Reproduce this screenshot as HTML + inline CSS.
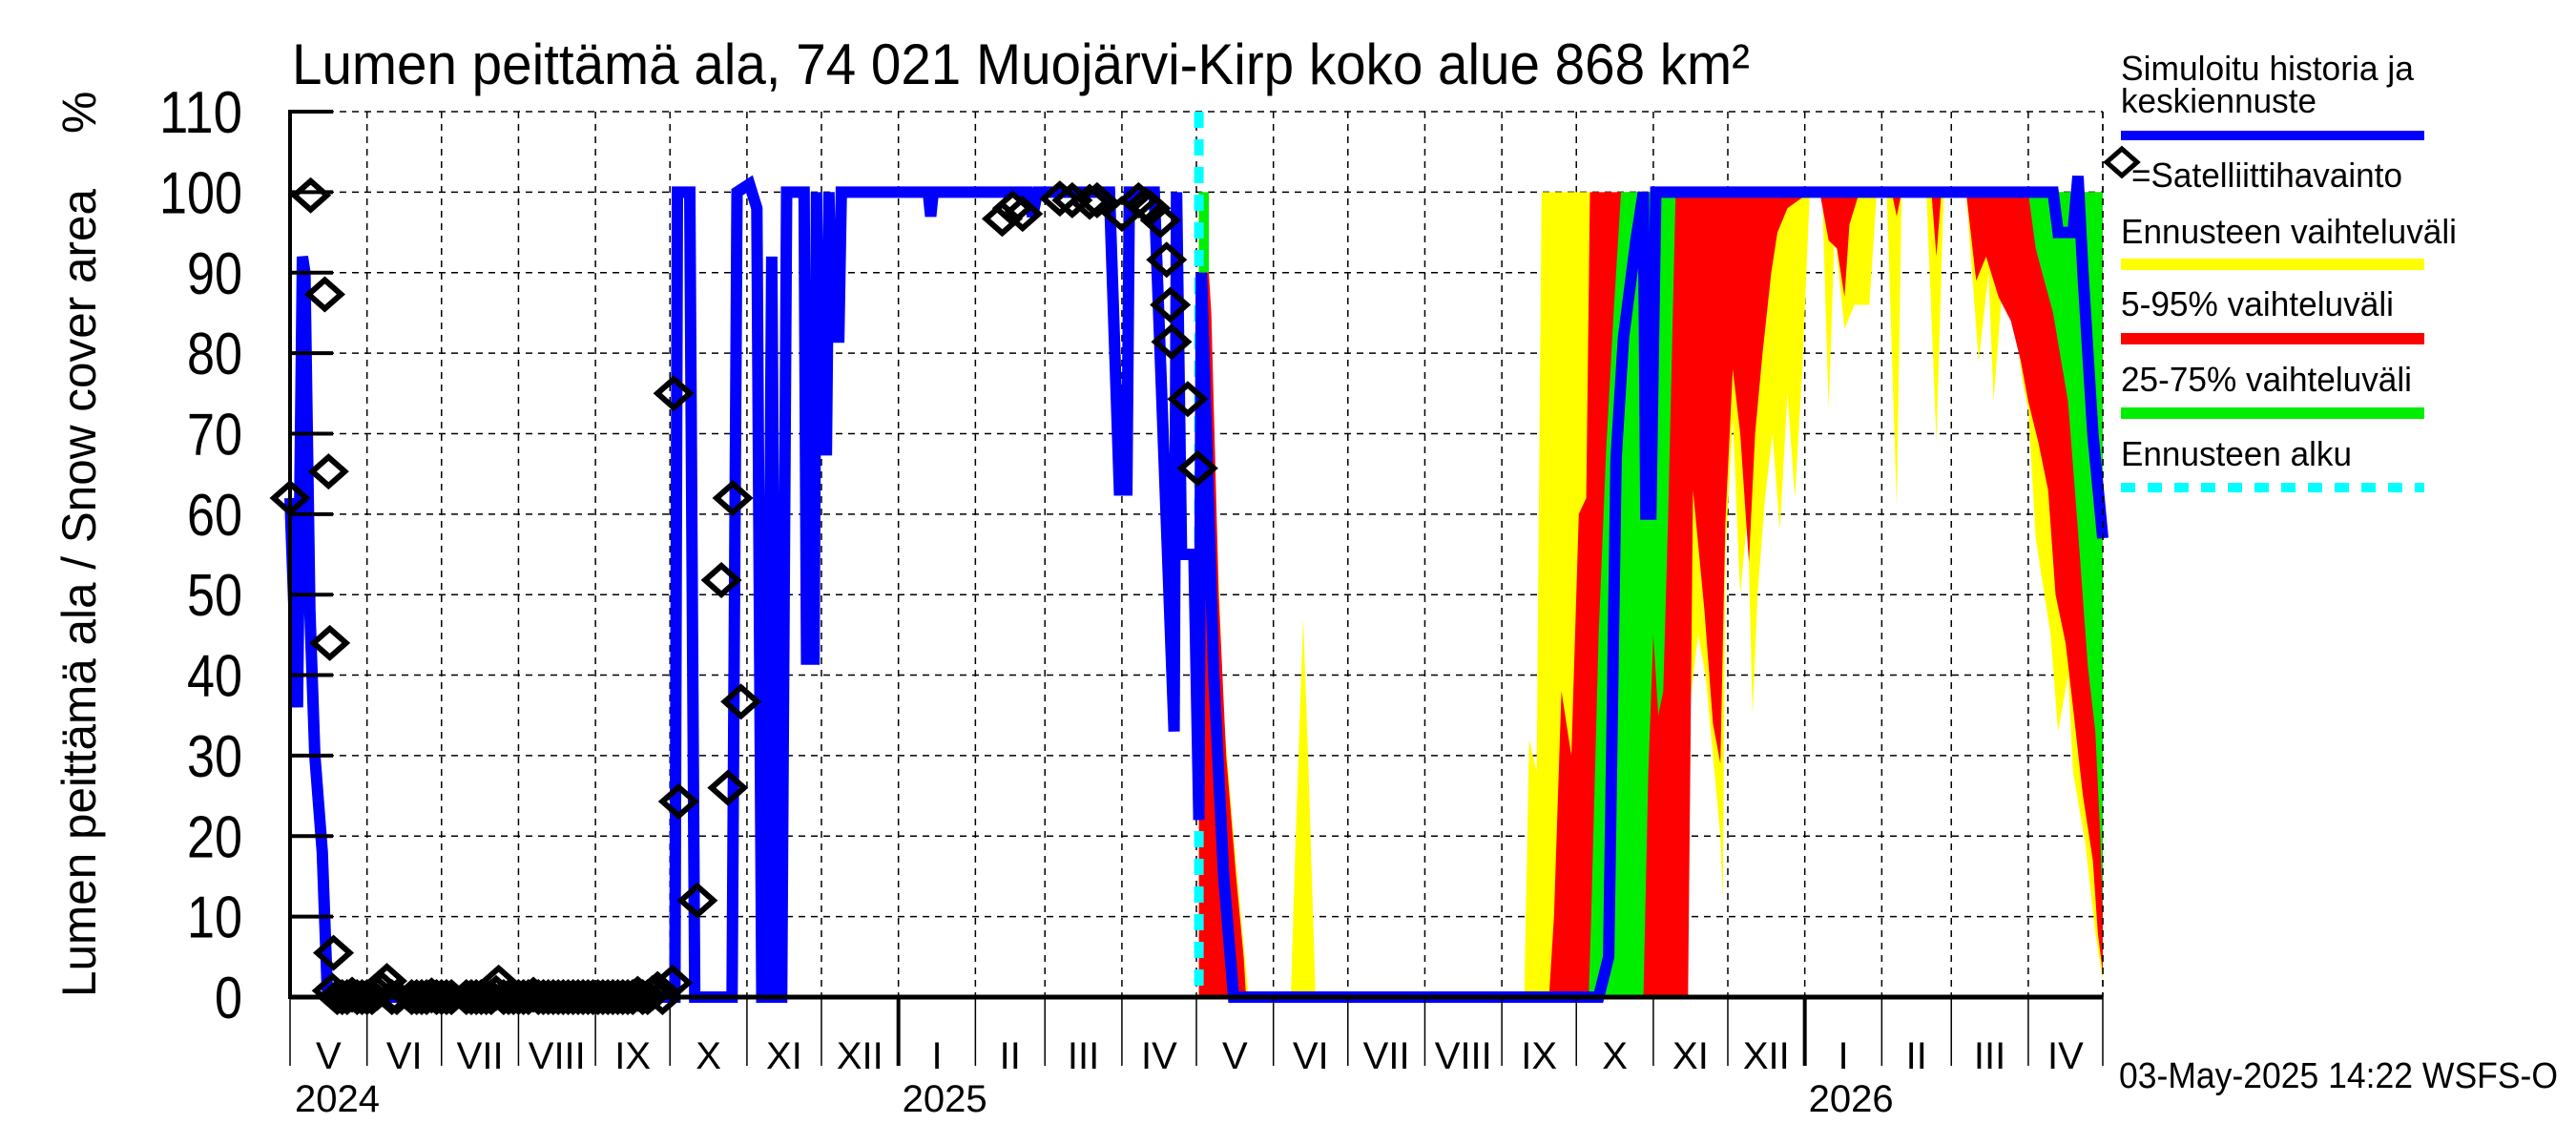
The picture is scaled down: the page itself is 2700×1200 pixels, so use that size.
<!DOCTYPE html>
<html><head><meta charset="utf-8"><style>
html,body{margin:0;padding:0;background:#fff;}
svg{display:block;}
text{font-family:"Liberation Sans",sans-serif;fill:#000;}
</style></head><body>
<svg id="chart" width="2700" height="1200" viewBox="0 0 2700 1200" xmlns="http://www.w3.org/2000/svg">
<rect x="0" y="0" width="2700" height="1200" fill="#fff"/>
<text x="306" y="88" font-size="60" textLength="1528" lengthAdjust="spacingAndGlyphs">Lumen peittämä ala, 74 021 Muojärvi-Kirp koko alue 868 km²</text>
<text transform="translate(100,1045) rotate(-90)" font-size="50" textLength="847" lengthAdjust="spacingAndGlyphs">Lumen peittämä ala / Snow cover area</text>
<text transform="translate(100,140) rotate(-90)" font-size="50">%</text>
<g id="grid"></g>
<g id="bands"></g>
<g id="series"></g>
<g id="axes"></g>
<g id="legend">
<text x="2223" y="84" font-size="36" textLength="307" lengthAdjust="spacingAndGlyphs">Simuloitu historia ja</text>
<text x="2223" y="118" font-size="36" textLength="205" lengthAdjust="spacingAndGlyphs">keskiennuste</text>
<rect x="2223" y="137" width="318" height="10" fill="#0000ff"/>
<path d="M2208,170 L2224,156 L2240,170 L2224,184 Z" fill="none" stroke="#000" stroke-width="5"/>
<text x="2234" y="196" font-size="36" textLength="284" lengthAdjust="spacingAndGlyphs">=Satelliittihavainto</text>
<text x="2223" y="255" font-size="36" textLength="352" lengthAdjust="spacingAndGlyphs">Ennusteen vaihteluväli</text>
<rect x="2223" y="271" width="318" height="12" fill="#ffff00"/>
<text x="2223" y="331" font-size="36" textLength="286" lengthAdjust="spacingAndGlyphs">5-95% vaihteluväli</text>
<rect x="2223" y="349" width="318" height="12" fill="#ff0000"/>
<text x="2223" y="410" font-size="36" textLength="305" lengthAdjust="spacingAndGlyphs">25-75% vaihteluväli</text>
<rect x="2223" y="427" width="318" height="12" fill="#00ee00"/>
<text x="2223" y="488" font-size="36" textLength="242" lengthAdjust="spacingAndGlyphs">Ennusteen alku</text>
<line x1="2223" y1="511" x2="2541" y2="511" stroke="#00ffff" stroke-width="10" stroke-dasharray="15,13"/>
</g>
<text x="2221" y="1140" font-size="38" textLength="460" lengthAdjust="spacingAndGlyphs">03-May-2025 14:22 WSFS-O</text>
</svg>
<script>
// Data: days since 2024-05-01, values in %
const blueHist = [[0,62],[3,36],[5,92],[6,90],[8,48],[10,30],[13,18],[15,1],[16,0],[155,0],[156,100],[161,100],[163,0],[178,0],[180,100],[185,101],[188,98],[190,0],[192,0],[194,92],[196,0],[198,0],[200,100],[207,100],[208,42],[211,42],[212,100],[213,68],[216,68],[217,100],[218,82],[221,82],[222,100],[257,100],[258,97],[259,100],[297,100],[299,97],[301,100],[330,100],[334,63],[337,63],[338,100],[348,100],[356,33],[357,100],[359,55],[364,55],[366,22]];
const blueFcst = [[366,22],[367,90],[372,40],[376,15],[380,0],[527,0],[531,5],[534,67],[537,82],[542,94],[545,100],[546,60],[548,60],[550,100],[710,100],[712,95],[718,95],[720,102],[722,90],[726,70],[730,57]];
const yellowUpper = [[366,100],[368,100],[370,90],[373,60],[376,35],[380,20],[383,10],[386,0],[403,0],[405,20],[408,47],[410,30],[413,0],[497,0],[499,32],[502,28],[504,100],[730,100]];
const yellowLower = [[366,0],[562,0],[564,37],[567,45],[570,40],[573,30],[576,20],[577,12],[578,55],[581,72],[584,50],[587,60],[589,35],[591,50],[594,62],[597,70],[600,58],[603,75],[606,62],[609,78],[612,100],[617,100],[619.6,73],[622,95],[626,83],[630,86],[636,86],[639,100],[643,100],[647,61],[649,100],[659,100],[663,69],[666,100],[675,100],[680,79],[684,90],[686,74],[690,90],[694,85],[698,76],[700,73],[703,57],[709,45],[712,33],[716,40],[718,28],[723,19],[727,8],[730,2]];
const redUpper = [[366,100],[368,100],[371,85],[374,50],[377,30],[381,15],[384,5],[385,0],[507,0],[509,10],[512,38],[516,30],[519,60],[522,62],[523.5,100],[730,100]];
const redLower = [[366,0],[563,0],[565,63],[569.6,48],[573,34],[576,29],[578,59],[581,78],[584,70],[587.5,54],[590,70],[593,80],[596.5,90],[599,95],[603,98],[612,100],[616,100],[619.6,94],[623,93],[626,87],[628,96],[632,100],[645,100],[647,97],[649,100],[661,100],[663,92],[665,100],[675,100],[679,89],[683,92],[688,87],[693,84],[697,79],[700,74],[704,69],[708,63],[711,50],[715,44],[718,36],[722,25],[726,17],[728,8],[730,3]];
// 25-75% band in three separate episodes
const greenUpperA = [[366,100],[370,100]];
const greenLowerA = [[366,90],[370,90]];
const greenUpperB = [[523,0],[524,10],[527,45],[530,68],[533,85],[536,100],[558,100]];
const greenLowerB = [[523,0],[545,0],[547,28],[549,45],[551,35],[553,38],[555,60],[558,100]];
const greenUpperC = [[700,100],[730,100]];
const greenLowerC = [[700,100],[703,93],[710,85],[716,74],[720,58],[724,41],[727,33],[729,20],[730,10]];
const obsDays = [0,8.3,14,15.5,16,17.5,17,19,21,23,25,27,29,31,33,35,37,39,41,43,49,51,53,55,57,59,61,63,65,71,73,75,77,79,81,83,84,86,88,90,92,94,96,98,100,102,104,106,108,110,112,114,116,118,120,122,124,126,128,130,132,134,136,138,140,142,144,146,148,150,154,154.5,156.5,164,173.7,176.3,178.3,181.6,286.8,291,295,310,315,322,325,335,341.7,344.5,346.5,350.5,353,354.5,355,361.5,365.5];
const obsVals = [62,99.6,87.3,65.3,44,5.5,0.8,0,0,0,0.3,0,0,0,0,0.5,1,2,0,0,0,0,0,0,0.2,0,0,0,0,0,0,0,0,0,0,0.5,1.8,0,0,0,0,0,0,0.3,0,0,0,0,0,0,0,0,0,0,0,0,0,0,0,0,0,0,0,0,0.4,0,0,0.5,1,0,1.8,75,24.3,12,51.8,26,62,36.7,96.7,98,97.3,99.2,99,98.8,99,97.3,99,98.4,98,96.5,91.6,86,81.4,74.3,65.7];
const yTicks = [0,10,20,30,40,50,60,70,80,90,100,110];
const monthLabels = ["I","II","III","IV","V","VI","VII","VIII","IX","X","XI","XII"];
const yearLabels = ["2024","2025","2026"];
const forecastStartDay = 366;

const NS = "http://www.w3.org/2000/svg";
const X0 = 304, X1 = 2204, Y0 = 1045, PXD = (X1 - X0) / 730, PXV = 8.436;
function xs(d){ return X0 + d * PXD; }
function ys(v){ return Y0 - v * PXV; }
function mk(tag, attrs, parent){ const e = document.createElementNS(NS, tag); for (const k in attrs) e.setAttribute(k, attrs[k]); parent.appendChild(e); return e; }
const start = Date.UTC(2024,4,1);
function dayOf(y,m){ return Math.round((Date.UTC(y,m,1) - start)/86400000); }

const grid = document.getElementById('grid');
const axes = document.getElementById('axes');
yTicks.forEach(v => {
  if (v > 0) {
    const l = mk('line', {x1:X0, y1:ys(v), x2:X1, y2:ys(v), stroke:'#000', 'stroke-width':1.5, 'stroke-dasharray':'7,6'}, grid);
    
    
  }
  const t = mk('line', {x1:X0, y1:ys(v), x2:X0+45, y2:ys(v), stroke:'#000', 'stroke-width':4}, axes);
  
  
  const s = String(v);
  const tx = mk('text', {x:254, y:ys(v)+22, 'font-size':62, 'text-anchor':'end', textLength: s.length*29, lengthAdjust:'spacingAndGlyphs'}, axes);
  tx.textContent = s;
  
  
});
let bounds = [];
for (let i = 0; i <= 24; i++) {
  const y = 2024 + Math.floor((4 + i) / 12), m = (4 + i) % 12;
  bounds.push({d: dayOf(y, m), y: y, m: m});
}
bounds.forEach((b, i) => {
  const x = xs(b.d);
  if (i > 0) {
    const g = mk('line', {x1:x, y1:ys(110), x2:x, y2:Y0, stroke:'#000', 'stroke-width':1.5, 'stroke-dasharray':'7,6'}, grid);
    
    
  }
  const isYear = b.m === 0;
  const t = mk('line', {x1:x, y1:Y0, x2:x, y2:1117, stroke:'#000', 'stroke-width': isYear ? 4 : 1.5}, axes);
  
  
  if (i < bounds.length - 1) {
    const cx = (x + xs(bounds[i+1].d)) / 2;
    const ml = mk('text', {x:cx, y:1120, 'font-size':40, 'text-anchor':'middle'}, axes);
    ml.textContent = monthLabels[b.m];
    
    
  }
});
const yearX = [xs(0)+5, xs(dayOf(2025,0))+4, xs(dayOf(2026,0))+4];
yearLabels.forEach((s, i) => {
  const yl = mk('text', {x:yearX[i], y:1165, 'font-size':40}, axes);
  yl.textContent = s;
  
  
});
const ya = mk('line', {x1:X0, y1:ys(110)-2, x2:X0, y2:Y0+2, stroke:'#000', 'stroke-width':4}, axes);


const xa = mk('line', {x1:X0, y1:Y0, x2:X1, y2:Y0, stroke:'#000', 'stroke-width':5}, axes);



const bands = document.getElementById('bands');
function band(up, lo, color, name) {
  const pts = up.map(p => xs(p[0]).toFixed(1) + ',' + ys(p[1]).toFixed(1))
    .concat(lo.slice().reverse().map(p => xs(p[0]).toFixed(1) + ',' + ys(p[1]).toFixed(1)));
  const p = mk('polygon', {points: pts.join(' '), fill: color}, bands);
  
  
}
band(yellowUpper, yellowLower, '#ffff00', 'band-min-max');
band(redUpper, redLower, '#ff0000', 'band-5-95');
band(greenUpperA, greenLowerA, '#00ee00', 'band-25-75-spring');
band(greenUpperB, greenLowerB, '#00ee00', 'band-25-75-autumn');
band(greenUpperC, greenLowerC, '#00ee00', 'band-25-75-melt');

const series = document.getElementById('series');
const cy = mk('line', {x1:xs(forecastStartDay), y1:ys(110), x2:xs(forecastStartDay), y2:Y0, stroke:'#00ffff', 'stroke-width':10, 'stroke-dasharray':'17,12'}, series);


function line(arr, name) {
  const p = mk('polyline', {points: arr.map(q => xs(q[0]).toFixed(1) + ',' + ys(q[1]).toFixed(1)).join(' '), fill:'none', stroke:'#0000ff', 'stroke-width':12, 'stroke-linejoin':'miter', 'stroke-miterlimit':3}, series);
  
  
}
line(blueHist, 'simulated-history-line');
line(blueFcst, 'median-forecast-line');
obsDays.forEach((d, i) => {
  const x = xs(d), y = ys(obsVals[i]);
  const m = mk('path', {d: `M${x-17},${y} L${x},${y-15} L${x+17},${y} L${x},${y+15} Z`, fill:'none', stroke:'#000', 'stroke-width':6}, series);
  
  
});
const rb = mk('line', {x1:X1, y1:ys(110), x2:X1, y2:Y0, stroke:'#000', 'stroke-width':1.5, 'stroke-dasharray':'7,6'}, axes);


</script>
</body></html>
